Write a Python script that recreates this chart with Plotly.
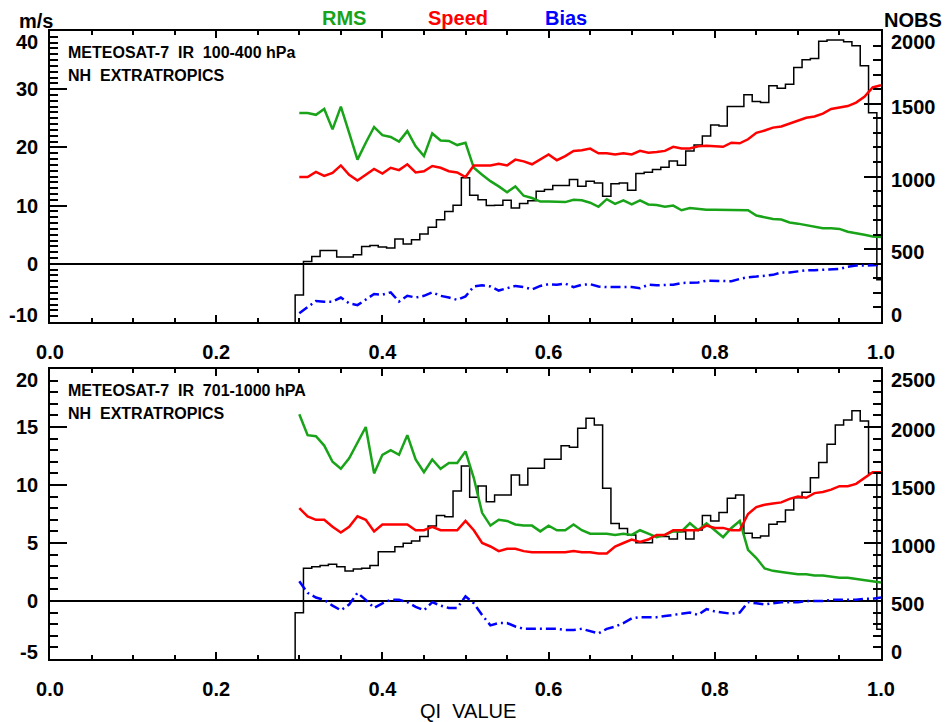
import plotly.graph_objects as go

# ---------------- data ----------------
QI = [0.30, 0.31, 0.32, 0.33, 0.34, 0.35, 0.36, 0.37, 0.38, 0.39,
      0.40, 0.41, 0.42, 0.43, 0.44, 0.45, 0.46, 0.47, 0.48, 0.49,
      0.50, 0.51, 0.52, 0.53, 0.54, 0.55, 0.56, 0.57, 0.58, 0.59,
      0.60, 0.61, 0.62, 0.63, 0.64, 0.65, 0.66, 0.67, 0.68, 0.69,
      0.70, 0.71, 0.72, 0.73, 0.74, 0.75, 0.76, 0.77, 0.78, 0.79,
      0.80, 0.81, 0.82, 0.83, 0.84, 0.85, 0.86, 0.87, 0.88, 0.89,
      0.90, 0.91, 0.92, 0.93, 0.94, 0.95, 0.96, 0.97, 0.98, 0.99,
      1.00]
BIN_WIDTH = 0.01

# Upper panel: METEOSAT-7 IR 100-400 hPa
TOP_RMS = [25.9, 25.9, 25.6, 26.6, 23.1, 27.0, 22.5, 17.9, 20.8, 23.5,
           22.1, 21.8, 21.0, 22.8, 20.2, 18.5, 22.4, 21.2, 21.1, 20.4,
           20.8, 16.5, 15.3, 14.2, 13.3, 12.3, 13.3, 11.7, 11.3, 10.7,
           10.7, 10.6, 10.6, 11.0, 10.9, 10.5, 9.8, 11.1, 10.3, 10.9,
           10.2, 10.9, 10.2, 10.1, 9.8, 10.0, 9.2, 9.6, 9.4, 9.3,
           9.3, 9.3, 9.3, 9.3, 9.2, 8.3, 8.0, 7.7, 7.6, 7.1,
           6.9, 6.6, 6.4, 6.1, 6.1, 6.0, 5.5, 5.3, 5.0, 4.7,
           4.6]
TOP_SPEED = [14.9, 14.9, 15.8, 15.1, 15.6, 16.9, 15.3, 14.3, 15.3, 16.3,
             15.5, 16.5, 16.1, 17.1, 15.7, 15.9, 16.8, 16.5, 15.9, 15.7,
             14.9, 16.9, 16.9, 16.9, 17.2, 16.9, 17.9, 17.6, 17.1, 17.9,
             18.8, 17.8, 18.5, 19.4, 19.5, 19.8, 19.0, 19.0, 18.8, 19.0,
             18.8, 19.4, 19.1, 19.2, 19.4, 20.1, 19.8, 19.8, 20.2, 20.3,
             20.2, 20.1, 20.8, 20.7, 21.4, 22.5, 22.9, 23.4, 23.6, 24.1,
             24.5, 25.1, 25.3, 25.8, 26.6, 26.8, 27.1, 27.7, 28.7, 30.3,
             30.7]
TOP_BIAS = [-8.5, -7.4, -6.4, -6.5, -6.5, -5.8, -6.8, -7.1, -6.2, -5.2,
            -5.3, -4.9, -6.5, -5.5, -5.8, -5.5, -4.9, -5.5, -5.8, -6.2,
            -5.6, -3.9, -3.7, -3.9, -4.6, -4.2, -3.8, -4.0, -4.4, -3.8,
            -3.5, -3.6, -3.4, -4.0, -3.6, -3.5, -3.9, -4.0, -4.0, -3.9,
            -4.0, -4.2, -3.6, -3.7, -3.7, -3.6, -3.3, -3.3, -3.2, -2.9,
            -2.9, -2.9, -3.0, -2.6, -2.3, -2.2, -2.1, -1.9, -1.5, -1.5,
            -1.3, -1.1, -1.1, -1.0, -0.9, -0.9, -0.5, -0.3, -0.3, -0.2,
            -0.2]
TOP_NOBS = [186, 416, 450, 492, 492, 446, 446, 462, 519, 526,
            515, 508, 570, 536, 566, 605, 651, 703, 759, 802,
            991, 871, 841, 800, 802, 837, 784, 814, 834, 899,
            910, 938, 938, 979, 933, 968, 956, 864, 950, 956,
            906, 1021, 1030, 1048, 1064, 1106, 1078, 1175, 1216, 1278,
            1354, 1347, 1481, 1481, 1561, 1515, 1508, 1623, 1607, 1634,
            1749, 1802, 1811, 1929, 1938, 1938, 1926, 1899, 1761, 1439,
            290]

# Lower panel: METEOSAT-7 IR 701-1000 hPA
BOT_RMS = [16.1, 14.3, 14.2, 13.4, 12.0, 11.4, 12.3, 13.6, 15.0, 11.0,
           12.6, 13.0, 12.6, 14.3, 12.2, 11.1, 12.2, 11.4, 11.9, 11.9,
           12.9, 10.6, 7.6, 6.5, 7.0, 6.9, 6.6, 6.5, 6.5, 6.0,
           6.5, 6.1, 6.1, 6.6, 6.1, 5.8, 5.8, 5.8, 5.7, 5.8,
           5.7, 6.1, 5.8, 5.5, 5.7, 6.0, 6.0, 6.7, 6.1, 6.7,
           6.1, 5.5, 6.3, 6.9, 4.4, 3.7, 2.8, 2.6, 2.5, 2.4,
           2.3, 2.3, 2.2, 2.2, 2.1, 2.0, 2.0, 1.9, 1.8, 1.7,
           1.6]
BOT_SPEED = [8.0, 7.3, 7.0, 7.0, 6.4, 5.9, 6.4, 7.3, 7.0, 6.0,
             6.6, 6.6, 6.6, 6.6, 6.1, 6.1, 6.4, 6.1, 6.1, 6.1,
             6.9, 6.1, 5.0, 4.7, 4.3, 4.5, 4.5, 4.3, 4.2, 4.2,
             4.2, 4.2, 4.2, 4.3, 4.2, 4.2, 4.1, 4.1, 4.7, 5.0,
             5.3, 5.1, 5.3, 5.7, 5.7, 6.1, 6.1, 6.1, 6.1, 6.5,
             6.3, 6.3, 6.1, 6.1, 7.5, 8.1, 8.3, 8.4, 8.5, 8.8,
             9.0, 8.9, 9.3, 9.4, 9.6, 9.9, 9.9, 10.1, 10.6, 11.1,
             11.1]
BOT_BIAS = [1.7, 0.7, 0.3, 0.1, -0.4, -0.8, -0.3, 0.7, 0.1, -0.6,
            -0.2, 0.1, 0.1, -0.1, -0.5, -0.8, -0.1, -0.4, -0.6, -0.6,
            0.4, -0.2, -1.2, -2.1, -1.9, -1.9, -2.2, -2.4, -2.4, -2.4,
            -2.4, -2.4, -2.5, -2.5, -2.4, -2.6, -2.8, -2.4, -2.2, -1.9,
            -1.5, -1.4, -1.4, -1.4, -1.3, -1.2, -1.1, -1.0, -1.2, -0.7,
            -0.9, -1.0, -1.1, -1.0, -0.1, -0.2, -0.3, -0.2, -0.1, -0.1,
            -0.1, 0.0, 0.0, 0.0, 0.1, 0.1, 0.1, 0.1, 0.2, 0.2,
            0.3]
BOT_NOBS = [399, 782, 796, 805, 816, 796, 759, 776, 782, 805,
            925, 925, 968, 997, 1017, 1055, 1147, 1236, 1227, 1448,
            1664, 1394, 1491, 1356, 1414, 1414, 1586, 1500, 1644, 1644,
            1722, 1722, 1839, 1825, 1989, 2075, 2017, 1471, 1169, 1126,
            1069, 1003, 1003, 1060, 1055, 1034, 1098, 1034, 1112, 1236,
            1190, 1262, 1385, 1414, 1083, 1046, 1060, 1161, 1184, 1284,
            1391, 1437, 1563, 1693, 1851, 2017, 2060, 2141, 2052, 1601,
            256]

X_TICKS = [0.0, 0.2, 0.4, 0.6, 0.8, 1.0]
X_TICK_LABELS = ["0.0", "0.2", "0.4", "0.6", "0.8", "1.0"]
TOP_MS_TICKS = [-10, 0, 10, 20, 30, 40]
TOP_NOBS_TICKS = [0, 500, 1000, 1500, 2000]
BOT_MS_TICKS = [-5, 0, 5, 10, 15, 20]
BOT_NOBS_TICKS = [0, 500, 1000, 1500, 2000, 2500]

TOP_TITLE = "METEOSAT-7\u00a0\u00a0IR\u00a0\u00a0100-400 hPa"
BOT_TITLE = "METEOSAT-7\u00a0\u00a0IR\u00a0\u00a0701-1000 hPA"
REGION = "NH\u00a0\u00a0EXTRATROPICS"

# ---------------- styling ----------------
W, H = 946, 722
ML, MR, MT, MB = 50, 65, 31, 63
PW, PH = W - ML - MR, H - MT - MB
GREEN, RED, BLUE = "#18a318", "#ff0000", "#0000ff"
FONT = "Liberation Sans, Arial, Helvetica, sans-serif"
LW = 1.5


def py(pix):  # pixel row -> paper y
    return (H - MB - pix) / PH


def px(pix):  # pixel column -> paper x
    return (pix - ML) / PW


TOP_DOM = [py(322), 1.0]
BOT_DOM = [0.0, py(369)]

# histogram outline from bin edges
left_edges = [round(q - BIN_WIDTH / 2, 4) for q in QI]
hist_x = [left_edges[0]] + left_edges + [round(QI[-1] + BIN_WIDTH / 2, 4)]


def hist_y(n):
    return [0] + list(n) + [n[-1]]


fig = go.Figure()

panels = [
    ("x", "y", "y2", TOP_NOBS, TOP_RMS, TOP_SPEED, TOP_BIAS),
    ("x2", "y3", "y4", BOT_NOBS, BOT_RMS, BOT_SPEED, BOT_BIAS),
]
for xa, ynobs, yms, nobs, rms, spd, bias in panels:
    fig.add_trace(go.Scatter(x=hist_x, y=hist_y(nobs), xaxis=xa, yaxis=ynobs,
                             mode="lines", line=dict(color="black", width=1.5, shape="hv"),
                             hoverinfo="skip"))
    fig.add_trace(go.Scatter(x=QI, y=rms, xaxis=xa, yaxis=yms, mode="lines",
                             line=dict(color=GREEN, width=2.5), name="RMS"))
    fig.add_trace(go.Scatter(x=QI, y=spd, xaxis=xa, yaxis=yms, mode="lines",
                             line=dict(color=RED, width=2.5), name="Speed"))
    fig.add_trace(go.Scatter(x=QI, y=bias, xaxis=xa, yaxis=yms, mode="lines",
                             line=dict(color=BLUE, width=2.5, dash="10px,4px,2px,4px"),
                             name="Bias"))

tickfont = dict(family=FONT, size=20, color="black", weight="bold")


def xaxis_cfg(anchor):
    return dict(anchor=anchor, domain=[0, 1], range=[0, 1], showgrid=False, zeroline=False,
                showline=True, linecolor="black", linewidth=LW, mirror="ticks",
                ticks="inside", ticklen=7, tickwidth=LW, tickcolor="black",
                tickvals=X_TICKS, ticktext=X_TICK_LABELS, tickfont=tickfont,
                ticklabelstandoff=11,
                minor=dict(dtick=0.05, tick0=0, ticks="inside", ticklen=4,
                           tickwidth=LW, tickcolor="black"))


def nobs_cfg(anchor, domain, rng, ticks):
    return dict(anchor=anchor, domain=domain, side="right", range=rng, showgrid=False,
                zeroline=False, showline=True, linecolor="black", linewidth=LW,
                ticks="inside", ticklen=17, tickwidth=LW, tickcolor="black",
                tickvals=ticks, showticklabels=False,
                minor=dict(dtick=100, tick0=0, ticks="inside", ticklen=8,
                           tickwidth=LW, tickcolor="black"))


def ms_cfg(anchor, overlay, rng, ticks):
    return dict(anchor=anchor, overlaying=overlay, side="left", range=rng, showgrid=False,
                zeroline=True, zerolinecolor="black", zerolinewidth=LW,
                showline=True, linecolor="black", linewidth=LW,
                ticks="inside", ticklen=17, tickwidth=LW, tickcolor="black",
                tickvals=ticks, showticklabels=False,
                minor=dict(dtick=1, tick0=0, ticks="inside", ticklen=8,
                           tickwidth=LW, tickcolor="black"))


annotations = []


def tick_labels(values, yref, rng, side):
    for v in values:
        if v == rng[1]:
            ys = -11
        elif v == rng[0]:
            ys = 7
        else:
            ys = 0 if side == "left" else -3
        if side == "left":
            annotations.append(dict(x=0, xref="paper", y=v, yref=yref, text=str(v),
                                    xanchor="right", yanchor="middle", xshift=-10, yshift=ys,
                                    showarrow=False, font=tickfont))
        else:
            annotations.append(dict(x=1, xref="paper", y=v, yref=yref, text=str(v),
                                    xanchor="left", yanchor="middle", xshift=8, yshift=ys,
                                    showarrow=False, font=tickfont))


TOP_MS_RANGE, TOP_NOBS_RANGE = [-10, 40], [0, 2000]
BOT_MS_RANGE, BOT_NOBS_RANGE = [-5, 20], [0, 2500]
tick_labels(TOP_MS_TICKS, "y2", TOP_MS_RANGE, "left")
tick_labels(TOP_NOBS_TICKS, "y", TOP_NOBS_RANGE, "right")
tick_labels(BOT_MS_TICKS, "y4", BOT_MS_RANGE, "left")
tick_labels(BOT_NOBS_TICKS, "y3", BOT_NOBS_RANGE, "right")


def text(t, xpix, ypix, size, color="black", weight="bold", anchor="center"):
    annotations.append(dict(x=px(xpix), y=py(ypix), xref="paper", yref="paper", text=t,
                            xanchor=anchor, yanchor="middle", showarrow=False,
                            font=dict(family=FONT, size=size, color=color, weight=weight)))


text("m/s", 36, 21, 20)
text("NOBS", 913, 20, 20)
text("RMS", 344, 18, 20, GREEN)
text("Speed", 458, 18, 20, RED)
text("Bias", 566, 18, 20, BLUE)
text(TOP_TITLE, 66, 52, 16, anchor="left")
text(REGION, 66, 75, 16, anchor="left")
text(BOT_TITLE, 66, 390, 16, anchor="left")
text(REGION, 66, 413, 16, anchor="left")
text("QI\u00a0\u00a0VALUE", 468, 711, 20, weight="normal")

fig.update_layout(
    width=W, height=H,
    margin=dict(l=ML, r=MR, t=MT, b=MB, pad=0),
    paper_bgcolor="white", plot_bgcolor="white",
    showlegend=False,
    xaxis=xaxis_cfg("y"),
    yaxis=nobs_cfg("x", TOP_DOM, TOP_NOBS_RANGE, TOP_NOBS_TICKS),
    yaxis2=ms_cfg("x", "y", TOP_MS_RANGE, TOP_MS_TICKS),
    xaxis2=xaxis_cfg("y3"),
    yaxis3=nobs_cfg("x2", BOT_DOM, BOT_NOBS_RANGE, BOT_NOBS_TICKS),
    yaxis4=ms_cfg("x2", "y3", BOT_MS_RANGE, BOT_MS_TICKS),
    annotations=annotations,
)

# remove the page's default body margin so the 946x722 figure fills the window exactly
fig.write_html(
    "out.html",
    config={"displayModeBar": False},
    post_script="document.body.style.margin='0';document.body.style.overflow='hidden';",
)
